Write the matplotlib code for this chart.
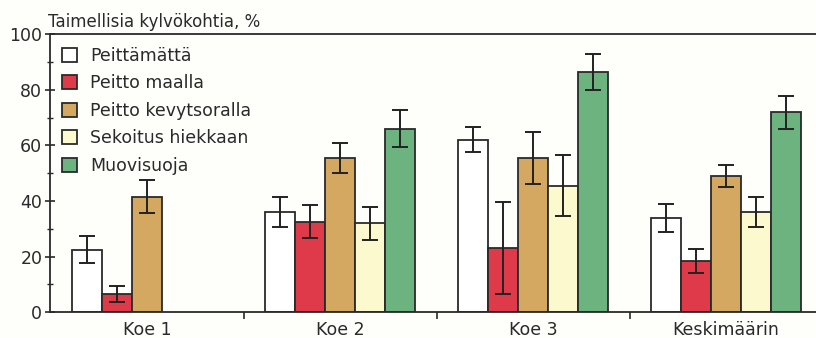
import matplotlib
matplotlib.use("Agg")
import matplotlib.pyplot as plt
import numpy as np
from matplotlib.patches import Patch

plt.rcParams['font.family'] = ['DejaVu Sans']

categories = ["Koe 1", "Koe 2", "Koe 3", "Keskimäärin"]
series = ["Peittämättä", "Peitto maalla", "Peitto kevytsoralla", "Sekoitus hiekkaan", "Muovisuoja"]
colors = ["#ffffff", "#df3a49", "#d5a862", "#fdf9cf", "#6db37f"]

values = {
    "Peittämättä":         [22.5, 36.0, 62.0, 34.0],
    "Peitto maalla":       [6.5, 32.5, 23.0, 18.5],
    "Peitto kevytsoralla": [41.5, 55.5, 55.5, 49.0],
    "Sekoitus hiekkaan":   [np.nan, 32.0, 45.5, 36.0],
    "Muovisuoja":          [np.nan, 66.0, 86.5, 72.0],
}
errors = {
    "Peittämättä":         [5.0, 5.5, 4.5, 5.0],
    "Peitto maalla":       [3.0, 6.0, 16.5, 4.3],
    "Peitto kevytsoralla": [6.0, 5.5, 9.5, 4.0],
    "Sekoitus hiekkaan":   [np.nan, 6.0, 11.0, 5.3],
    "Muovisuoja":          [np.nan, 6.7, 6.5, 6.0],
}

fig = plt.figure(figsize=(8.16, 3.38), dpi=100)
fig.patch.set_facecolor("#fefefb")
ax = fig.add_axes([50/816, 26/338, 766/816, 277.5/338])
ax.set_facecolor("#fefefb")

x = np.arange(len(categories))
w = 0.155
for i, s in enumerate(series):
    pos = x + (i - 2) * w
    vals = np.array(values[s], dtype=float)
    errs = np.array(errors[s], dtype=float)
    m = ~np.isnan(vals)
    ax.bar(pos[m], vals[m], width=w, color=colors[i], edgecolor="#2a2a2a", linewidth=1.3, zorder=2)
    ax.errorbar(pos[m], vals[m], yerr=errs[m], fmt="none", ecolor="#222222",
                elinewidth=1.4, capsize=5.5, capthick=1.4, zorder=3)

ax.set_xlim(-0.503, 3.466)
ax.set_ylim(0, 100)
ax.set_yticks([0, 20, 40, 60, 80, 100])
ax.set_yticks(np.arange(10, 100, 20), minor=True)
ax.tick_params(axis="y", which="major", direction="inout", length=7, width=1.2, labelsize=12.5, pad=2, colors="#2a2a2a")
ax.tick_params(axis="y", which="minor", direction="inout", length=5, width=1.0, colors="#2a2a2a")
ax.set_xticks([0.5, 1.5, 2.5])
ax.set_xticklabels([])
ax.tick_params(axis="x", which="major", direction="out", length=5, width=1.2, colors="#2a2a2a")
for xi, c in zip(x, categories):
    ax.text(xi, -3.3, c, ha="center", va="top", fontsize=12.5, color="#2a2a2a")

for sp in ["right"]:
    ax.spines[sp].set_visible(False)
for sp in ["left", "bottom", "top"]:
    ax.spines[sp].set_linewidth(1.3)
    ax.spines[sp].set_color("#2a2a2a")

handles = [Patch(facecolor=c, edgecolor="#2a2a2a", linewidth=1.3) for c in colors]
leg = ax.legend(handles, series, loc="upper left", bbox_to_anchor=(0.0, 1.0), frameon=False,
                fontsize=12.5, handlelength=0.85, handleheight=0.85, handletextpad=0.75,
                labelspacing=0.55, borderaxespad=0.3)
for t in leg.get_texts():
    t.set_color("#2a2a2a")

fig.text(48/816, 1 - 27/338, "Taimellisia kylvökohtia, %", ha="left", va="baseline", fontsize=12, color="#2a2a2a")

fig.savefig("out.png", dpi=100, facecolor=fig.get_facecolor())
